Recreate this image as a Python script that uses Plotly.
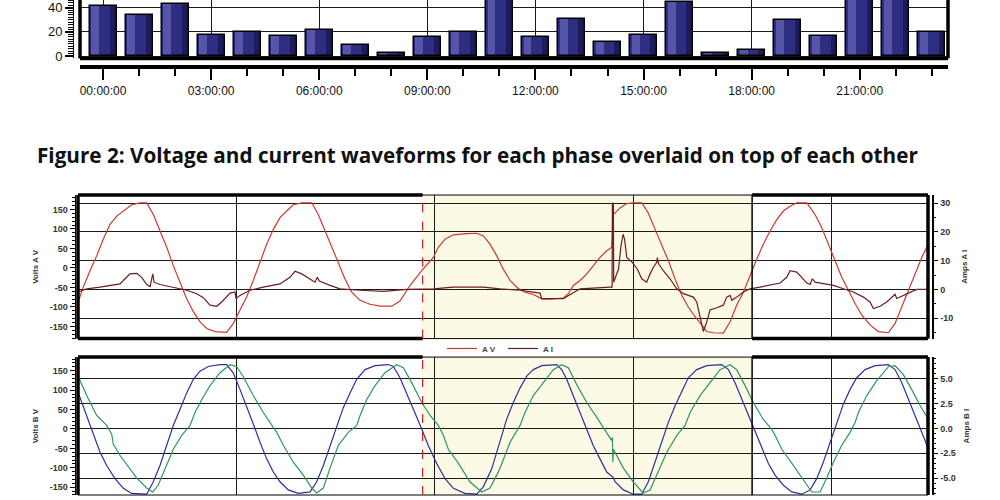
import plotly.graph_objects as go

# ---------------- data: hourly bar chart ----------------
hours = list(range(24))
hour_tick_vals = [0, 3, 6, 9, 12, 15, 18, 21]
hour_tick_text = ["00:00:00", "03:00:00", "06:00:00", "09:00:00",
                  "12:00:00", "15:00:00", "18:00:00", "21:00:00"]
bar_values = [41, 34, 43, 17.7, 20, 16.3, 21.2, 9.5, 2.7, 15.5, 19.6, 60,
              15.5, 30.5, 11.7, 17.7, 44.4, 2.7, 4.9, 29.4, 16.3, 60, 58, 19.9]

# axis tick values / labels of the waveform panels
volt_ticks = [-150, -100, -50, 0, 50, 100, 150]
volt_labels = ["-150", "-100", "-50", "0", "50", "100", "150"]
amp_a_ticks = [-10, 0, 10, 20, 30]
amp_a_labels = ["-10", "0", "10", "20", "30"]
amp_b_ticks = [-5, -2.5, 0, 2.5, 5]
amp_b_labels = ["-5.0", "-2.5", "0.0", "2.5", "5.0"]

# ---------------- data: phase A (time in ms) ----------------
va_t = [4.11, 4.61, 5.29, 5.96, 6.63, 7.31, 7.98, 8.82, 9.49, 10.33, 11.00, 11.67, 12.34,
        13.02, 13.68, 14.36, 15.03, 15.70, 16.37, 17.05, 17.88, 19.06, 19.73, 20.40, 21.08,
        21.74, 22.42, 23.09, 23.76, 24.43, 25.11, 25.77, 26.62, 27.63, 28.29, 28.97, 29.64,
        30.31, 30.98, 31.66, 32.50, 33.50, 34.51, 35.69, 36.52, 37.53, 38.71, 39.88, 40.38,
        41.06, 41.90, 43.25, 44.25, 44.92, 45.59, 46.27, 46.93, 47.61, 48.45, 49.12, 49.96,
        50.80, 51.64, 52.98, 53.48, 53.99, 54.66, 55.34, 56.00, 56.67, 57.35, 57.86, 58.02,
        58.69, 59.37, 60.03, 60.88, 61.54, 62.22, 62.89, 63.56, 64.23, 64.91, 65.57, 66.25,
        66.92, 67.43, 68.09, 69.10, 69.78, 70.45, 71.12, 71.79, 72.47, 73.13, 73.81, 74.48,
        75.15, 75.82, 76.50, 77.51, 78.34, 79.02, 79.68, 80.36, 81.03, 81.70, 82.37, 83.05,
        83.88, 84.72, 85.73, 86.40, 87.08, 87.74, 88.42, 89.09, 89.73]
va_v = [-87, -49, -7, 31, 74, 112, 133, 150, 162, 167, 167, 137, 95,
        53, 6, -36, -79, -112, -138, -155, -163, -165, -142, -108, -74,
        -32, 14, 61, 99, 129, 146, 162, 167, 167, 137, 95, 53,
        10, -28, -62, -83, -93, -98, -98, -85, -45, -7, 27, 53,
        74, 85, 88, 89, 82, 61, 31, -3, -32, -53, -62, -68,
        -79, -80, -77, -66, -45, -32, -15, 6, 27, 44, 53, 137,
        154, 165, 167, 167, 141, 99, 61, 19, -28, -70, -100, -125,
        -146, -163, -166, -167, -138, -95, -62, -19, 23, 61, 95, 124,
        146, 158, 167, 167, 137, 103, 61, 19, -24, -57, -91, -121,
        -146, -163, -166, -142, -100, -57, -15, 27, 61]

ia_t = [4.11, 4.96, 6.30, 7.64, 8.31, 8.82, 9.32, 10.00, 10.50, 11.00, 11.34, 11.61, 11.74,
        12.34, 13.68, 15.03, 16.04, 16.71, 17.38, 18.06, 18.56, 19.40, 19.90, 20.00, 20.40,
        21.41, 22.75, 24.43, 25.44, 25.95, 26.62, 27.46, 27.96, 28.19, 28.39, 29.47, 30.48,
        32.50, 34.84, 37.20, 39.88, 41.90, 44.92, 46.60, 48.62, 50.63, 50.80, 52.98, 53.83,
        54.66, 57.69, 57.89, 57.92, 58.02, 58.05, 58.54, 58.79, 59.00, 59.15, 59.37, 59.92,
        60.43, 60.88, 61.38, 61.72, 62.05, 62.39, 62.45, 62.57, 63.05, 63.73, 64.41, 65.07,
        66.08, 66.42, 66.75, 67.09, 67.43, 67.76, 68.44, 69.10, 69.44, 69.78, 69.95, 70.45,
        71.12, 71.79, 72.80, 73.81, 74.82, 75.49, 75.82, 76.50, 77.51, 77.84, 78.07, 78.34,
        79.18, 80.19, 81.19, 82.20, 83.21, 83.88, 84.22, 84.89, 85.56, 86.23, 86.40, 86.57,
        87.24, 88.25, 88.59, 89.73]
ia_i = [-0.9, 0.2, 0.8, 1.4, 1.9, 3.7, 5.4, 5.6, 4.2, 1.7, 1.0, 5.4, 2.5,
        1.7, 0.8, -0.3, -1.5, -2.9, -5.5, -5.9, -4.4, -1.3, -0.9, -3.2, -2.1,
        -0.3, 0.8, 1.9, 4.2, 6.3, 5.4, 3.7, 2.5, 4.2, 2.9, 1.4, 0.2,
        -0.3, -0.7, 0.0, 0.2, 0.8, 0.8, 0.2, -0.3, -1.3, -3.2, -3.2, -1.5,
        0.2, 0.8, 0.8, 30.0, 30.0, 2.5, 7.1, 15.2, 19.2, 17.4, 11.1, 9.4,
        7.1, 3.7, 2.5, 5.4, 7.7, 9.4, 11.1, 9.0, 6.5, 3.7, 0.2, -1.5,
        -2.7, -4.4, -9.0, -14.7, -11.3, -7.2, -6.4, -5.5, -2.7, -2.1, -3.8, -2.7,
        -0.9, 0.2, 0.8, 1.4, 2.2, 4.2, 6.5, 6.0, 2.2, 1.7, 3.7, 2.5,
        1.9, 1.4, 0.2, -0.9, -2.7, -4.4, -6.7, -5.9, -4.4, -2.1, -1.7, -3.2,
        -2.1, -0.6, 0.0, 0.0]

# ---------------- data: phase B (time in ms) ----------------
vb_t = [4.11, 4.96, 5.62, 6.30, 6.97, 7.81, 8.65, 9.49, 11.00, 11.67, 12.34, 13.02, 13.68,
        14.36, 15.03, 15.70, 16.37, 17.21, 18.39, 19.06, 19.73, 20.40, 21.08, 21.74, 22.42,
        23.09, 23.76, 24.43, 25.27, 26.28, 27.46, 28.13, 28.80, 29.47, 30.15, 30.81, 31.49,
        32.16, 33.00, 34.01, 35.35, 35.85, 36.52, 37.20, 37.87, 38.71, 39.38, 40.22, 41.06,
        41.90, 43.07, 44.25, 44.92, 45.77, 46.60, 47.28, 47.94, 48.62, 49.29, 49.96, 50.80,
        52.31, 52.81, 53.32, 53.99, 54.66, 55.34, 56.00, 56.67, 57.35, 58.02, 58.19, 59.03,
        60.03, 60.88, 61.54, 62.22, 62.89, 63.56, 64.23, 64.91, 65.57, 66.42, 67.43, 68.94,
        69.61, 70.28, 70.95, 71.62, 72.30, 72.97, 73.64, 74.31, 75.15, 75.99, 77.00, 77.84,
        78.51, 79.18, 79.85, 80.53, 81.19, 81.87, 82.54, 83.38, 84.39, 85.73, 86.40, 87.08,
        87.74, 88.42, 89.09, 89.76]
vb_v = [93, 34, -17, -60, -94, -128, -153, -166, -168, -136, -94, -43, 9,
        51, 93, 128, 149, 161, 166, 166, 144, 102, 59, 13, -34,
        -77, -111, -136, -157, -166, -162, -136, -94, -43, 9, 55, 93,
        128, 153, 163, 166, 161, 132, 93, 51, 0, -43, -89, -128,
        -153, -166, -168, -149, -102, -30, 26, 68, 106, 136, 153, 163,
        166, 153, 128, 85, 43, 0, -43, -77, -111, -125, -136, -157,
        -168, -168, -136, -85, -34, 17, 59, 98, 132, 153, 163, 166,
        153, 119, 77, 34, -9, -51, -89, -119, -145, -162, -168, -157,
        -128, -85, -34, 17, 64, 102, 132, 153, 163, 166, 153, 119,
        77, 34, -9, -51]

ib_t = [4.11, 4.96, 5.96, 6.97, 7.48, 7.64, 8.31, 9.15, 10.00, 11.00, 11.61, 12.17, 12.85,
        13.68, 14.53, 15.37, 15.87, 16.55, 17.38, 18.39, 19.40, 20.07, 20.74, 21.74, 22.75,
        23.76, 24.10, 24.77, 25.77, 26.78, 27.63, 28.13, 28.80, 29.47, 30.31, 31.32, 32.16,
        32.50, 33.17, 34.01, 35.01, 36.19, 36.86, 37.70, 38.71, 39.55, 40.38, 40.89, 41.39,
        42.40, 43.58, 44.76, 45.59, 46.27, 46.60, 47.61, 48.62, 49.12, 49.96, 50.97, 51.97,
        52.81, 53.48, 54.33, 55.34, 56.35, 57.35, 57.84, 57.92, 57.97, 58.02, 59.03, 60.03,
        61.04, 61.72, 62.55, 63.40, 64.41, 65.24, 65.75, 66.75, 67.76, 68.77, 69.78, 70.45,
        71.29, 72.12, 73.13, 73.98, 74.31, 74.99, 75.99, 77.00, 78.01, 78.85, 79.52, 80.19,
        81.03, 81.87, 82.37, 82.71, 83.55, 84.56, 85.73, 86.40, 87.24, 88.08, 88.92, 89.76]
ib_i = [5.2, 3.3, 1.3, 0.3, -0.6, -1.6, -2.7, -3.9, -5.0, -6.0, -6.4, -5.7, -4.0,
        -2.1, -0.7, 0.3, 1.6, 2.9, 4.3, 5.6, 6.4, 6.2, 5.2, 3.3, 1.6,
        0.1, -0.4, -1.7, -3.4, -4.7, -6.0, -6.5, -6.0, -4.0, -1.7, -0.4, 0.3,
        1.3, 2.9, 4.3, 5.6, 6.4, 6.1, 4.6, 2.6, 1.3, 0.3, -0.7, -2.1,
        -3.5, -5.4, -6.4, -6.0, -4.7, -4.0, -1.4, 0.3, 1.6, 3.3, 4.6, 5.9,
        6.4, 6.1, 4.4, 2.6, 1.1, -0.4, -1.2, -0.9, -3.4, -2.1, -4.0, -5.4,
        -6.5, -6.2, -4.4, -2.4, -0.7, 0.3, 1.6, 3.3, 4.6, 5.9, 6.4, 5.9,
        4.3, 2.6, 0.9, -0.1, -0.7, -2.1, -3.5, -5.0, -6.4, -6.4, -5.0, -3.4,
        -1.7, -0.4, 0.6, 1.6, 3.3, 4.8, 6.2, 6.3, 5.4, 3.9, 2.3, 0.9]

cursor_ms = 38.8      # trigger cursor
event_end_ms = 72.0   # end of highlighted event window

# ---------------- styling ----------------
BAR_COL = "#2d2d82"
AV_COL = "#cc3a2e"
AI_COL = "#6e1c1c"
BV_COL = "#2c309e"
BI_COL = "#2f9468"
GRID = "#1a1a1a"
SHADE = "#fcf9e4"
SANS = "Liberation Sans, Arial, sans-serif"
TICKFONT = dict(family=SANS, size=9, color="#333", weight="bold")
TITLEFONT = dict(family=SANS, size=8, color="#333", weight="bold")

t_range = [4.08, 89.72]
va_range = [-181.0, 187.0]
ia_range = [-17.14, 32.86]
vb_range = [-170.1, 185.2]
ib_range = [-6.70, 7.17]

fig = go.Figure()

# bars (base + highlight + shadow + outline for a cylindrical look)
fig.add_trace(go.Bar(x=hours, y=bar_values, width=0.75, offset=-0.375,
                     marker=dict(color=BAR_COL, line=dict(width=0)),
                     xaxis="x", yaxis="y", showlegend=False, hoverinfo="skip"))
fig.add_trace(go.Bar(x=hours, y=bar_values, width=0.22, offset=-0.33,
                     marker=dict(color="rgba(120,120,200,0.55)", line=dict(width=0)),
                     xaxis="x", yaxis="y", showlegend=False, hoverinfo="skip"))
fig.add_trace(go.Bar(x=hours, y=bar_values, width=0.16, offset=0.19,
                     marker=dict(color="rgba(15,15,60,0.55)", line=dict(width=0)),
                     xaxis="x", yaxis="y", showlegend=False, hoverinfo="skip"))
fig.add_trace(go.Bar(x=hours, y=bar_values, width=0.75, offset=-0.375,
                     marker=dict(color="rgba(0,0,0,0)", line=dict(color="black", width=1.5)),
                     xaxis="x", yaxis="y", showlegend=False))

# phase A
fig.add_trace(go.Scatter(x=va_t, y=va_v, mode="lines", name="A V",
                         line=dict(color=AV_COL, width=1.2), xaxis="x2", yaxis="y2"))
fig.add_trace(go.Scatter(x=ia_t, y=ia_i, mode="lines", name="A I",
                         line=dict(color=AI_COL, width=1.2), xaxis="x2", yaxis="y3"))
# phase B
fig.add_trace(go.Scatter(x=vb_t, y=vb_v, mode="lines", name="B V", showlegend=False,
                         line=dict(color=BV_COL, width=1.2), xaxis="x3", yaxis="y4"))
fig.add_trace(go.Scatter(x=ib_t, y=ib_i, mode="lines", name="B I", showlegend=False,
                         line=dict(color=BI_COL, width=1.2), xaxis="x3", yaxis="y5"))

# cursor marker (triangle above phase A)
tri_y = va_range[1] + 0.05 * (va_range[1] - va_range[0])
fig.add_trace(go.Scatter(x=[cursor_ms], y=[tri_y], mode="markers", showlegend=False,
                         marker=dict(symbol="triangle-down", size=8, color="#d23a2a",
                                     line=dict(color="#7a1a1a", width=1)),
                         cliponaxis=False, xaxis="x2", yaxis="y2", hoverinfo="skip"))

shapes = []
for xr, yr in (("x2", "y2"), ("x3", "y4")):
    shapes.append(dict(type="rect", xref=xr, yref=yr + " domain", x0=cursor_ms, x1=event_end_ms,
                       y0=0, y1=1, fillcolor=SHADE, line=dict(width=0), layer="below"))


def frame(xr, yr, show_bottom=True):
    out = []
    xd, yd = xr + " domain", yr + " domain"
    out.append(dict(type="rect", xref=xd, yref=yd, x0=0, x1=1, y0=0, y1=1,
                    line=dict(color="black", width=1)))
    out.append(dict(type="line", xref=xd, yref=yd, x0=0, x1=0, y0=0, y1=1,
                    line=dict(color="black", width=3.5)))
    out.append(dict(type="line", xref=xd, yref=yd, x0=1, x1=1, y0=0, y1=1,
                    line=dict(color="black", width=3.5)))
    ys = [1, 0] if show_bottom else [1]
    for yy in ys:
        out.append(dict(type="line", xref=xr, yref=yd, x0=t_range[0], x1=cursor_ms, y0=yy, y1=yy,
                        line=dict(color="black", width=3.5)))
        out.append(dict(type="line", xref=xr, yref=yd, x0=event_end_ms, x1=t_range[1], y0=yy, y1=yy,
                        line=dict(color="black", width=3.5)))
    out.append(dict(type="line", xref=xr, yref=yd, x0=event_end_ms, x1=event_end_ms, y0=0, y1=1,
                    line=dict(color="black", width=1.5)))
    out.append(dict(type="line", xref=xr, yref=yd, x0=cursor_ms, x1=cursor_ms, y0=0, y1=1,
                    line=dict(color="#d42020", width=1.2, dash="dash")))
    return out


shapes += frame("x2", "y2", True)
shapes += frame("x3", "y4", False)
for x0, x1, y0, y1 in ((0, 0, 0, 1), (1, 1, 0, 1), (0, 1, 0, 0)):
    shapes.append(dict(type="line", xref="x domain", yref="y domain", x0=x0, x1=x1, y0=y0, y1=y1,
                       line=dict(color="black", width=3.5)))
shapes.append(dict(type="line", xref="x2", yref="y2", x0=cursor_ms, x1=cursor_ms,
                   y0=va_range[1], y1=tri_y, line=dict(color="#d42020", width=1.2)))


def wave_y(domain, rng, ticks, labels, minor_dtick, title, side, position, grid, overlay=None):
    d = dict(range=rng, anchor="free", position=position, side=side,
             showline=True, linecolor="black", linewidth=1.5 if side == "right" else 1,
             ticks="outside", tickmode="array", tickvals=ticks, ticktext=labels,
             ticklen=5, tickcolor="black",
             minor=dict(tickmode="linear", tick0=0, dtick=minor_dtick, ticklen=3,
                        tickcolor="black", showgrid=False),
             showgrid=grid, gridcolor=GRID, gridwidth=1, zeroline=False, tickfont=TICKFONT,
             title=dict(text=title, font=TITLEFONT, standoff=8))
    if domain is not None:
        d["domain"] = domain
    if overlay is not None:
        d["overlaying"] = overlay
    return d


fig.update_layout(
    width=1000, height=500,
    margin=dict(l=0, r=0, t=0, b=0),
    paper_bgcolor="white", plot_bgcolor="white",
    barmode="overlay", bargap=0,
    shapes=shapes,
    showlegend=True,
    legend=dict(orientation="h", x=0.503, xanchor="center", y=1 - 352 / 500, yanchor="middle",
                font=dict(family=SANS, size=8, color="#444", weight="bold"),
                bgcolor="rgba(0,0,0,0)", entrywidth=16, entrywidthmode="pixels",
                tracegroupgap=0),
    # ---- bar chart axes ----
    xaxis=dict(domain=[0.080, 0.948], range=[-0.64, 23.45], anchor="free", position=1 - 68 / 500,
               showline=True, linecolor="black", linewidth=4,
               ticks="outside", tickvals=hour_tick_vals, ticktext=hour_tick_text,
               ticklen=11, tickwidth=2, tickcolor="black",
               minor=dict(tickvals=hours, ticklen=7, tickwidth=2, tickcolor="black", showgrid=False),
               showgrid=True, gridcolor=GRID, gridwidth=1, zeroline=False,
               tickfont=dict(family=SANS, size=12, color="#111")),
    yaxis=dict(domain=[1 - 59 / 500, 1.0], range=[-1.9, 46.3], anchor="free", position=0.073,
               showline=True, linecolor="black", linewidth=1,
               ticks="outside", tickvals=[0, 20, 40], ticklen=8, tickwidth=1.5, tickcolor="black",
               minor=dict(dtick=2, ticklen=5, tickwidth=1, tickcolor="black", showgrid=False),
               showgrid=True, gridcolor=GRID, gridwidth=1, zeroline=False,
               tickfont=dict(family=SANS, size=13, color="#111")),
    # ---- phase A ----
    xaxis2=dict(domain=[0.078, 0.928], range=t_range, anchor="y2",
                showticklabels=False, ticks="", tickmode="linear", tick0=0, dtick=20,
                showgrid=True, gridcolor=GRID, gridwidth=1, zeroline=False, showline=False),
    yaxis2=wave_y([1 - 342 / 500, 1 - 197 / 500], va_range, volt_ticks, volt_labels, 10,
                  "Volts A V", "left", 0.0745, False),
    yaxis3=wave_y(None, ia_range, amp_a_ticks, amp_a_labels, 5,
                  "Amps A I", "right", 0.9327, True, overlay="y2"),
    # ---- phase B ----
    xaxis3=dict(domain=[0.078, 0.928], range=t_range, anchor="y4",
                showticklabels=False, ticks="", tickmode="linear", tick0=0, dtick=20,
                showgrid=True, gridcolor=GRID, gridwidth=1, zeroline=False, showline=False),
    yaxis4=wave_y([0.0, 1 - 360.7 / 500], vb_range, volt_ticks, volt_labels, 10,
                  "Volts B V", "left", 0.0745, False),
    yaxis5=wave_y(None, ib_range, amp_b_ticks, amp_b_labels, 0.5,
                  "Amps B I", "right", 0.9327, True, overlay="y4"),
    annotations=[dict(text="Figure 2: Voltage and current waveforms for each phase overlaid on top of each other",
                      x=0.4775, y=1 - 157 / 500, xref="paper", yref="paper",
                      xanchor="center", yanchor="middle", showarrow=False,
                      font=dict(family="Open Sans, sans-serif", size=20.7, color="#111", weight="bold"))],
)

fig.write_html("out.html")
